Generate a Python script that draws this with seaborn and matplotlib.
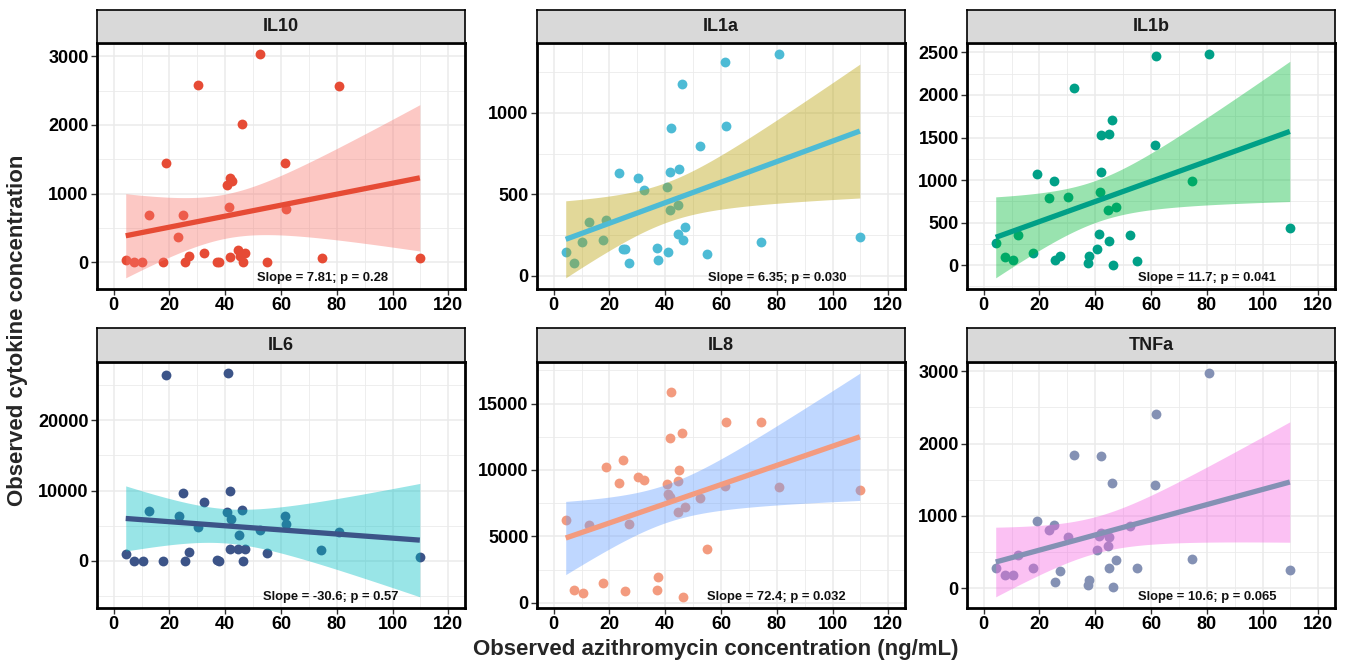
import numpy as np
import matplotlib
matplotlib.use("Agg")
import matplotlib.pyplot as plt
import matplotlib.transforms as mtransforms
from matplotlib.ticker import MultipleLocator
import seaborn as sns

# ----- values -----
il10_x = [4.3, 7.3, 10.3, 12.5, 17.5, 18.9, 23.2, 25.0, 25.4, 27.1, 30.2, 32.5, 37.2, 37.6, 40.8, 41.7,
          42.3, 41.2, 41.8, 44.4, 45.3, 46.1, 46.3, 47.2, 52.5, 55.0, 61.3, 61.8, 74.6, 80.7, 109.8]
il10_y = [34, 0, 5, 696, 0, 1449, 372, 696, 5, 92, 2585, 135, 0, 0, 1121, 1227,
          1188, 807, 82, 184, 97, 2014, 5, 130, 3029, 5, 1440, 783, 68, 2570, 58]

il1a_x = [4.3, 7.4, 10.3, 12.5, 17.5, 18.9, 23.4, 24.7, 25.6, 26.9, 30.2, 32.5, 37.2, 37.5, 40.7, 41.1,
          41.7, 42.1, 41.7, 44.4, 45.0, 44.7, 46.0, 46.2, 47.1, 52.5, 55.0, 61.3, 61.9, 74.5, 80.7, 109.8]
il1a_y = [147, 76, 206, 327, 222, 345, 629, 163, 163, 78, 602, 527, 169, 94, 547, 143,
          635, 906, 404, 433, 657, 257, 1176, 220, 300, 796, 133, 1310, 918, 206, 1361, 239]

il1b_x = [4.3, 7.5, 10.5, 12.3, 17.6, 19.0, 23.5, 25.3, 25.6, 27.2, 30.3, 32.3, 37.6, 37.5, 40.8, 41.2,
          41.8, 42.0, 41.9, 44.9, 44.6, 45.1, 46.1, 46.3, 47.3, 52.5, 55.1, 61.4, 61.9, 74.6, 80.8, 109.8]
il1b_y = [261, 93, 62, 350, 144, 1074, 790, 992, 58, 113, 805, 2085, 113, 23, 190, 366,
          864, 1093, 1533, 1537, 650, 288, 1700, 8, 685, 350, 51, 1416, 2455, 992, 2479, 432]

il6_x = [4.3, 7.3, 10.4, 12.5, 17.5, 18.9, 23.4, 25.0, 25.4, 27.1, 30.2, 32.5, 37.2, 37.6, 40.8, 41.1,
         41.7, 42.2, 41.8, 44.4, 45.0, 46.0, 46.3, 47.2, 52.5, 55.0, 61.3, 61.9, 74.5, 80.7, 109.8]
il6_y = [995, 0, 0, 7156, 0, 26493, 6445, 9621, 0, 1280, 4834, 8389, 95, 0, 6967, 26730,
         10000, 5924, 1706, 1706, 3697, 7204, 0, 1706, 4360, 1137, 6445, 5308, 1564, 4123, 521]

il8_x = [4.3, 7.4, 10.4, 12.5, 17.5, 18.9, 23.4, 25.0, 25.4, 26.9, 30.2, 32.5, 37.2, 37.5, 40.7, 41.1,
         41.9, 41.7, 41.7, 44.4, 44.9, 44.7, 46.0, 46.2, 47.2, 52.5, 55.0, 61.4, 61.9, 74.5, 80.7, 109.8]
il8_y = [6225, 1000, 700, 5875, 1525, 10250, 9050, 10725, 875, 5925, 9500, 9225, 975, 1950, 8975, 8225,
         15900, 12425, 8000, 6850, 10000, 9150, 12775, 450, 7250, 7925, 4025, 8800, 13600, 13600, 8750, 8500]

tnfa_x = [4.3, 7.5, 10.5, 12.3, 17.6, 19.0, 23.5, 25.3, 25.6, 27.2, 30.3, 32.5, 37.6, 37.5, 40.8, 41.3,
          41.9, 42.0, 44.6, 44.9, 45.1, 46.1, 46.3, 47.3, 52.6, 55.1, 61.4, 61.9, 74.6, 80.8, 109.8]
tnfa_y = [279, 174, 183, 458, 284, 934, 810, 874, 87, 233, 709, 1849, 114, 37, 531, 719,
          1822, 769, 577, 700, 279, 1455, 14, 389, 856, 284, 1423, 2403, 403, 2975, 243]

cytokines = ["IL10", "IL1a", "IL1b", "IL6", "IL8", "TNFa"]
stats_text = ["Slope = 7.81; p = 0.28", "Slope = 6.35; p = 0.030", "Slope = 11.7; p = 0.041",
              "Slope = -30.6; p = 0.57", "Slope = 72.4; p = 0.032", "Slope = 10.6; p = 0.065"]
y_steps = [1000, 500, 500, 10000, 5000, 1000]

point_colors = ["#E64B35", "#4DBBD5", "#00A087", "#3C5488", "#F39B7F", "#8491B4"]
band_colors = ["#F8766D", "#B79F00", "#00BA38", "#00BFC4", "#619CFF", "#F564E3"]

xs = [il10_x, il1a_x, il1b_x, il6_x, il8_x, tnfa_x]
ys = [il10_y, il1a_y, il1b_y, il6_y, il8_y, tnfa_y]


def lm_band(x, y, grid):
    # analytic 95% confidence band of the OLS fit (like geom_smooth(method = "lm"))
    x = np.asarray(x, float)
    y = np.asarray(y, float)
    n = len(x)
    b, a = np.polyfit(x, y, 1)
    resid = y - (a + b * x)
    s = np.sqrt(np.sum(resid ** 2) / (n - 2))
    sxx = np.sum((x - x.mean()) ** 2)
    df = n - 2
    z = 1.959964
    t = z + (z ** 3 + z) / (4 * df) + (5 * z ** 5 + 16 * z ** 3 + 3 * z) / (96 * df ** 2)
    fit = a + b * grid
    se = s * np.sqrt(1 / n + (grid - x.mean()) ** 2 / sxx)
    return fit - t * se, fit + t * se


sns.set_theme(style="white")
plt.rcParams["font.family"] = ["Liberation Sans", "DejaVu Sans"]
plt.rcParams["font.weight"] = "bold"

W, H = 1345, 663
fig = plt.figure(figsize=(W / 100, H / 100), dpi=100)


def rect(left, top, width, height):
    return [left / W, (H - top - height) / H, width / W, height / H]


lefts = [97, 537, 967]
tops = [43, 362]
strip_h = [33, 34]
pw, ph = 368, 246
label_x = [75, 80, 80, 78, 80, 80]

for i, name in enumerate(cytokines):
    r, c = divmod(i, 3)
    ax = fig.add_axes(rect(lefts[c], tops[r], pw, ph))
    sax = fig.add_axes(rect(lefts[c], tops[r] - strip_h[r], pw, strip_h[r]))

    x = np.asarray(xs[i], float)
    y = np.asarray(ys[i], float)

    sns.regplot(x=x, y=y, ax=ax, ci=None, truncate=True, color=point_colors[i],
                scatter_kws={"s": 50, "alpha": 1, "linewidths": 0, "zorder": 2},
                line_kws={"lw": 3.8, "zorder": 4, "solid_capstyle": "butt"})

    grid = np.linspace(x.min(), x.max(), 200)
    lo, hi = lm_band(x, y, grid)
    ax.fill_between(grid, lo, hi, color=band_colors[i], alpha=0.4, lw=0, zorder=3)

    ymin = min(y.min(), lo.min())
    ymax = max(y.max(), hi.max())
    pad = 0.05 * (ymax - ymin)
    ax.set_ylim(ymin - pad, ymax + pad)
    ax.set_xlim(-6, 126)

    ax.xaxis.set_major_locator(MultipleLocator(20))
    ax.xaxis.set_minor_locator(MultipleLocator(10))
    ax.yaxis.set_major_locator(MultipleLocator(y_steps[i]))
    ax.yaxis.set_minor_locator(MultipleLocator(y_steps[i] / 2))
    ax.grid(which="major", color="#EBEBEB", lw=1.1, zorder=0)
    ax.grid(which="minor", color="#EBEBEB", lw=0.6, zorder=0)
    ax.set_axisbelow(True)
    ax.tick_params(which="major", direction="out", length=4, width=1, color="#333333",
                   labelsize=13, labelcolor="black", pad=2, left=True, bottom=True)
    ax.tick_params(which="minor", length=0)
    for lab in ax.get_xticklabels() + ax.get_yticklabels():
        lab.set_fontweight("bold")
    for sp in ax.spines.values():
        sp.set_color("black")
        sp.set_linewidth(2)
    ax.set_xlabel("")
    ax.set_ylabel("")

    trans = mtransforms.blended_transform_factory(ax.transData, ax.transAxes)
    ax.text(label_x[i], 0.045, stats_text[i], transform=trans, ha="center", va="center",
            fontsize=9.4, fontweight="bold", color="#111111", zorder=5)

    sax.set_facecolor("#D9D9D9")
    sax.set_xticks([])
    sax.set_yticks([])
    for sp in sax.spines.values():
        sp.set_color("black")
        sp.set_linewidth(1.2)
    sax.text(0.5, 0.5, name, transform=sax.transAxes, ha="center", va="center",
             fontsize=13, fontweight="bold", color="#1A1A1A")

fig.text(18 / W, 1 - 330 / H, "Observed cytokine concentration", rotation=90,
         ha="center", va="center", fontsize=16, fontweight="bold")
fig.text(716 / W, 1 - 650 / H, "Observed azithromycin concentration (ng/mL)",
         ha="center", va="center", fontsize=16, fontweight="bold")

fig.savefig("out.png", dpi=100)
